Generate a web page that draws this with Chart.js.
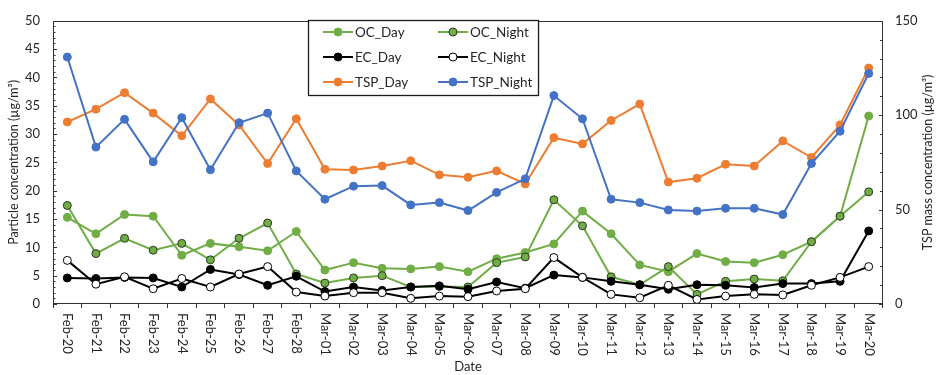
<!DOCTYPE html>
<html>
<head>
<meta charset="utf-8">
<script src="https://cdn.jsdelivr.net/npm/chart.js@4.4.1/dist/chart.umd.min.js"></script>
<style>
  html, body { margin: 0; padding: 0; background: #ffffff; }
  #c { display: block; }
</style>
</head>
<body>
<canvas id="c" width="938" height="375"></canvas>
<script>
// Sampling dates
const dates = [
  'Feb-20','Feb-21','Feb-22','Feb-23','Feb-24','Feb-25','Feb-26','Feb-27','Feb-28',
  'Mar-01','Mar-02','Mar-03','Mar-04','Mar-05','Mar-06','Mar-07','Mar-08','Mar-09','Mar-10',
  'Mar-11','Mar-12','Mar-13','Mar-14','Mar-15','Mar-16','Mar-17','Mar-18','Mar-19','Mar-20'
];

// Particle concentrations, µg/m³ (left axis)
const ocDay   = [15.3, 12.4, 15.8, 15.5, 8.6, 10.7, 10.1, 9.4, 12.8,
                 6.0, 7.3, 6.3, 6.2, 6.6, 5.7, 8.0, 9.1, 10.6, 16.4,
                 12.4, 6.9, 5.7, 8.9, 7.5, 7.3, 8.7, 11.0, 15.5, 33.2];
const ocNight = [17.4, 8.9, 11.6, 9.5, 10.7, 7.8, 11.6, 14.3, 5.3,
                 3.7, 4.6, 5.0, 3.0, 3.1, 3.0, 7.3, 8.3, 18.4, 13.8,
                 4.8, 3.4, 6.6, 1.7, 4.0, 4.4, 4.1, 11.0, 15.5, 19.8];
const ecDay   = [4.6, 4.5, 4.7, 4.6, 3.0, 6.1, 5.2, 3.3, 4.9,
                 2.2, 3.0, 2.4, 3.0, 3.2, 2.6, 3.9, 2.8, 5.1, 4.7,
                 4.0, 3.4, 2.6, 3.4, 3.3, 2.9, 3.6, 3.6, 4.0, 12.9];
const ecNight = [7.7, 3.5, 4.8, 2.7, 4.5, 3.0, 5.3, 6.6, 2.1,
                 1.4, 2.0, 2.0, 1.0, 1.4, 1.3, 2.3, 2.7, 8.2, 4.7,
                 1.7, 1.1, 3.3, 0.8, 1.4, 1.7, 1.6, 3.3, 4.7, 6.6];

// TSP mass concentrations, µg/m³ (right axis)
const tspDay   = [96.4, 103.2, 111.9, 101.1, 89.1, 108.6, 94.8, 74.4, 98.1,
                  71.4, 71.0, 73.1, 75.9, 68.4, 67.1, 70.5, 63.6, 88.1, 84.8,
                  97.2, 105.9, 64.6, 66.6, 74.0, 73.1, 86.4, 77.6, 94.8, 125.0];
const tspNight = [130.8, 83.1, 97.8, 75.3, 98.7, 71.1, 96.0, 101.1, 70.5,
                  55.5, 62.4, 62.7, 52.5, 53.7, 49.5, 59.1, 66.3, 110.4, 98.1,
                  55.5, 53.7, 49.8, 49.2, 50.7, 50.7, 47.4, 74.4, 91.5, 122.1];

// Axis ranges and titles
const leftMax = 50, leftStep = 5;
const rightMax = 150, rightStep = 50;
const leftTitle = 'Particle concentration (µg/m³)';
const rightTitle = 'TSP mass concentration (µg/m³)';
const xTitle = 'Date';

const FONT = 'Lato, "Liberation Sans", sans-serif';
const INK = '#262626';
const AXIS = '#333333';
const GREEN = '#70AD47', ORANGE = '#ED7D31', BLUE = '#4472C4';

function series(label, data, axis, line, fill, edge, order) {
  return {
    label, data, yAxisID: axis, order,
    borderColor: line, backgroundColor: fill, borderWidth: 2,
    pointRadius: 4, pointHoverRadius: 4, pointBorderWidth: 1,
    pointBackgroundColor: fill, pointBorderColor: edge,
    tension: 0, fill: false
  };
}

// Plot frame, inward ticks, rotated labels, titles and boxed legend
const decorations = {
  id: 'decorations',
  afterDraw(chart) {
    const { ctx, chartArea: a, scales } = chart;
    const xs = scales.x, yl = scales.y, yr = scales.y1;
    ctx.save();
    ctx.strokeStyle = AXIS;
    ctx.lineWidth = 1;
    ctx.strokeRect(Math.round(a.left) + 0.5, Math.round(a.top) + 0.5,
                   Math.round(a.right - a.left) - 1, Math.round(a.bottom - a.top) - 1);

    ctx.beginPath();
    for (let v = 0; v <= leftMax; v += 1) {
      const py = Math.round(yl.getPixelForValue(v)) + 0.5;
      const len = v % leftStep === 0 ? 4 : 2.5;
      ctx.moveTo(a.left, py); ctx.lineTo(a.left + len, py);
    }
    for (let v = 0; v <= rightMax; v += 10) {
      const py = Math.round(yr.getPixelForValue(v)) + 0.5;
      const len = v % rightStep === 0 ? 4 : 3;
      ctx.moveTo(a.right, py); ctx.lineTo(a.right - len, py);
    }
    ctx.stroke();

    ctx.fillStyle = INK;
    ctx.font = '13px ' + FONT;
    ctx.textAlign = 'left';
    ctx.textBaseline = 'middle';
    dates.forEach((d, i) => {
      const px = xs.getPixelForValue(i);
      ctx.save();
      ctx.translate(px, a.bottom + 9);
      ctx.rotate(Math.PI / 2);
      ctx.fillText(d, 0, 0);
      ctx.restore();
    });

    ctx.textAlign = 'center';
    ctx.font = '13px ' + FONT;
    ctx.fillText(xTitle, (a.left + a.right) / 2, 367);

    const cy = (a.top + a.bottom) / 2;
    ctx.font = '12.5px ' + FONT;
    ctx.save(); ctx.translate(14, cy); ctx.rotate(-Math.PI / 2);
    ctx.fillText(leftTitle, 0, 0); ctx.restore();
    ctx.save(); ctx.translate(928, cy); ctx.rotate(-Math.PI / 2);
    ctx.fillText(rightTitle, 0, 0); ctx.restore();

    // legend box
    const bx = 308, by = 20, bw = 230, bh = 75;
    ctx.fillStyle = '#ffffff';
    ctx.fillRect(bx, by, bw, bh);
    ctx.strokeStyle = '#1a1a1a';
    ctx.lineWidth = 1.3;
    ctx.strokeRect(bx + 0.5, by + 0.5, bw, bh);
    const cols = [323, 438], rows = [32, 57, 82];
    ctx.font = '13.5px ' + FONT;
    ctx.textAlign = 'left';
    ctx.textBaseline = 'middle';
    chart.data.datasets.forEach((ds, i) => {
      const lx = cols[i % 2], ly = rows[Math.floor(i / 2)];
      ctx.strokeStyle = ds.borderColor;
      ctx.lineWidth = 2;
      ctx.beginPath(); ctx.moveTo(lx, ly); ctx.lineTo(lx + 30, ly); ctx.stroke();
      ctx.beginPath(); ctx.arc(lx + 15, ly, 4, 0, Math.PI * 2);
      ctx.fillStyle = ds.pointBackgroundColor; ctx.fill();
      ctx.lineWidth = 1; ctx.strokeStyle = ds.pointBorderColor; ctx.stroke();
      ctx.fillStyle = INK;
      ctx.fillText(ds.label, lx + 32, ly + 1);
    });
    ctx.restore();
  }
};

new Chart(document.getElementById('c'), {
  type: 'line',
  data: {
    labels: dates,
    datasets: [
      series('OC_Day',    ocDay,    'y',  GREEN,   GREEN,     GREEN,     6),
      series('OC_Night',  ocNight,  'y',  GREEN,   GREEN,     '#2b3a22', 5),
      series('EC_Day',    ecDay,    'y',  '#000000', '#000000', '#000000', 4),
      series('EC_Night',  ecNight,  'y',  '#000000', '#ffffff', '#000000', 3),
      series('TSP_Day',   tspDay,   'y1', ORANGE,  ORANGE,    ORANGE,    2),
      series('TSP_Night', tspNight, 'y1', BLUE,    BLUE,      BLUE,      1)
    ]
  },
  options: {
    responsive: false,
    animation: false,
    devicePixelRatio: 1,
    layout: { padding: { top: 14, left: 0, right: 0, bottom: 0 } },
    plugins: { legend: { display: false }, tooltip: { enabled: false } },
    scales: {
      x: {
        type: 'category',
        offset: true,
        grid: { offset: true, drawOnChartArea: false, drawTicks: true, tickLength: 4, color: AXIS },
        border: { display: false },
        ticks: { display: false },
        afterFit: s => { s.height = 71; }
      },
      y: {
        position: 'left',
        min: 0, max: leftMax,
        ticks: { stepSize: leftStep, padding: 13, color: INK, font: { family: FONT, size: 13 } },
        grid: { drawOnChartArea: false, drawTicks: false },
        border: { display: false },
        afterFit: s => { s.width = 53; }
      },
      y1: {
        position: 'right',
        min: 0, max: rightMax,
        ticks: { stepSize: rightStep, padding: 12, color: INK, font: { family: FONT, size: 13 } },
        grid: { drawOnChartArea: false, drawTicks: false },
        border: { display: false },
        afterFit: s => { s.width = 55; }
      }
    }
  },
  plugins: [decorations]
});
</script>
</body>
</html>
